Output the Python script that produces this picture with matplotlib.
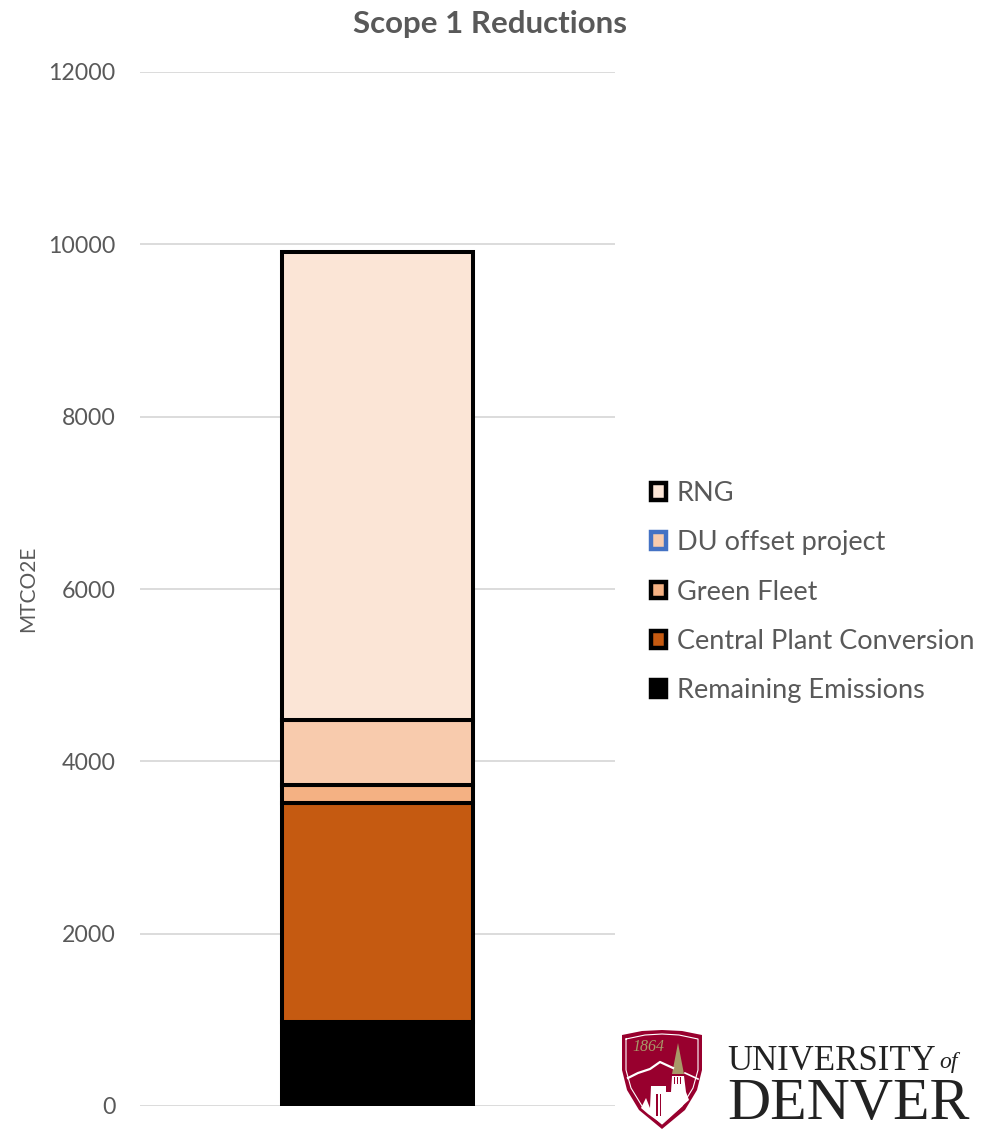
import matplotlib
matplotlib.use('Agg')
import matplotlib.pyplot as plt
from matplotlib.patches import Patch, Polygon, Rectangle

plt.rcParams['font.family'] = ['Lato', 'DejaVu Sans']

# stack heights, bottom to top (MTCO2E)
series = ['Remaining Emissions', 'Central Plant Conversion', 'Green Fleet', 'DU offset project', 'RNG']
values = [980, 2540, 205, 755, 5430]
fills = ['#000000', '#C55A11', '#F4B183', '#F8CBAD', '#FBE5D6']
legend_edges = ['#000000', '#000000', '#000000', '#4472C4', '#000000']
yticks = [0, 2000, 4000, 6000, 8000, 10000, 12000]

W, H = 986, 1129
text_color = '#595959'

fig = plt.figure(figsize=(W / 100, H / 100), dpi=100)
ax = fig.add_axes([140 / W, 1 - 1106 / H, 475 / W, 1034 / H])

bottom = 0
for name, val, col in zip(series, values, fills):
    ax.bar(0, val, width=0.402, bottom=bottom, color=col, edgecolor='black',
           linewidth=2.9, zorder=3, label=name)
    bottom += val

ax.set_xlim(-0.5, 0.5)
ax.set_ylim(0, 12000)
ax.set_xticks([])
ax.set_yticks(yticks)
ax.tick_params(axis='y', length=0, pad=17.5, labelsize=16.7, labelcolor=text_color)
ax.grid(axis='y', color='#D9D9D9', linewidth=1.3, zorder=0)
for s in ax.spines.values():
    s.set_visible(False)
ax.set_ylabel('MTCO2E', fontsize=15, color=text_color)
ax.yaxis.set_label_coords(-0.214, 0.5)
fig.text(490 / W, 1 - 24 / H, 'Scope 1 Reductions', fontsize=22.5, fontweight='bold', color=text_color,
         ha='center', va='center')

# legend order is top of stack first
handles = [Patch(facecolor=f, edgecolor=e, linewidth=3.2, label=n)
           for n, f, e in zip(series[::-1], fills[::-1], legend_edges[::-1])]
fig.legend(handles=handles, loc='upper left', bbox_to_anchor=(640 / W, 1 - 470 / H),
           frameon=False, fontsize=19.5, labelcolor=text_color, handlelength=0.57, handleheight=0.57,
           handletextpad=0.38, labelspacing=0.9, borderpad=0.4, borderaxespad=0)

# logo, drawn in pixel coordinates on an overlay
logo = fig.add_axes([0, 0, 1, 1], zorder=5)
logo.set_xlim(0, W)
logo.set_ylim(H, 0)
logo.axis('off')
logo.patch.set_alpha(0)

crimson = '#98002E'
gold = '#A89968'
dark = '#222222'
logo.add_patch(Polygon([(622, 1035), (642, 1031), (662, 1030), (682, 1031), (702, 1035), (702, 1070),
                        (697, 1090), (685, 1110), (662, 1129), (639, 1110), (627, 1090), (622, 1070)],
                       facecolor=crimson, edgecolor='none'))
logo.plot([626, 645, 662, 679, 698, 698, 693, 682, 662, 642, 631, 626, 626],
          [1039, 1035, 1034, 1035, 1039, 1070, 1088, 1106, 1124, 1106, 1088, 1070, 1039],
          color='white', linewidth=0.8)
# mountain ridge
logo.plot([628, 638, 650, 660, 673], [1078, 1073, 1069, 1062, 1068], color='white', linewidth=1.6)
logo.plot([685, 698], [1073, 1079], color='white', linewidth=1.2)
logo.add_patch(Polygon([(678, 1043), (672, 1074), (684, 1074)], facecolor=gold, edgecolor='none'))
# skyline
logo.add_patch(Polygon([(641, 1108), (646, 1098), (650, 1108), (651, 1086), (666, 1086), (666, 1092),
                        (671, 1092), (672, 1076), (684, 1076), (686, 1092), (689, 1100), (662, 1124),
                        (648, 1114)], facecolor='white', edgecolor='none'))
for stripe_x in [656, 659.5]:
    logo.add_patch(Rectangle((stripe_x, 1094), 1.6, 22, facecolor=crimson, edgecolor='none'))
for stripe_x in [674, 677, 680]:
    logo.add_patch(Rectangle((stripe_x, 1077), 1, 7, facecolor=crimson, edgecolor='none'))
logo.text(648, 1047, '1864', fontsize=11.5, style='italic', family='Liberation Serif', color=gold,
          ha='center', va='center')
logo.text(727, 1070, 'UNIVERSITY', fontsize=25, family='Liberation Serif', color=dark,
          ha='left', va='baseline')
logo.text(939, 1068, 'of', fontsize=17, style='italic', family='Liberation Serif', color=dark,
          ha='left', va='baseline')
logo.text(727, 1119, 'DENVER', fontsize=43, family='Liberation Serif', color=dark,
          ha='left', va='baseline')

fig.savefig('out.png', dpi=100)
